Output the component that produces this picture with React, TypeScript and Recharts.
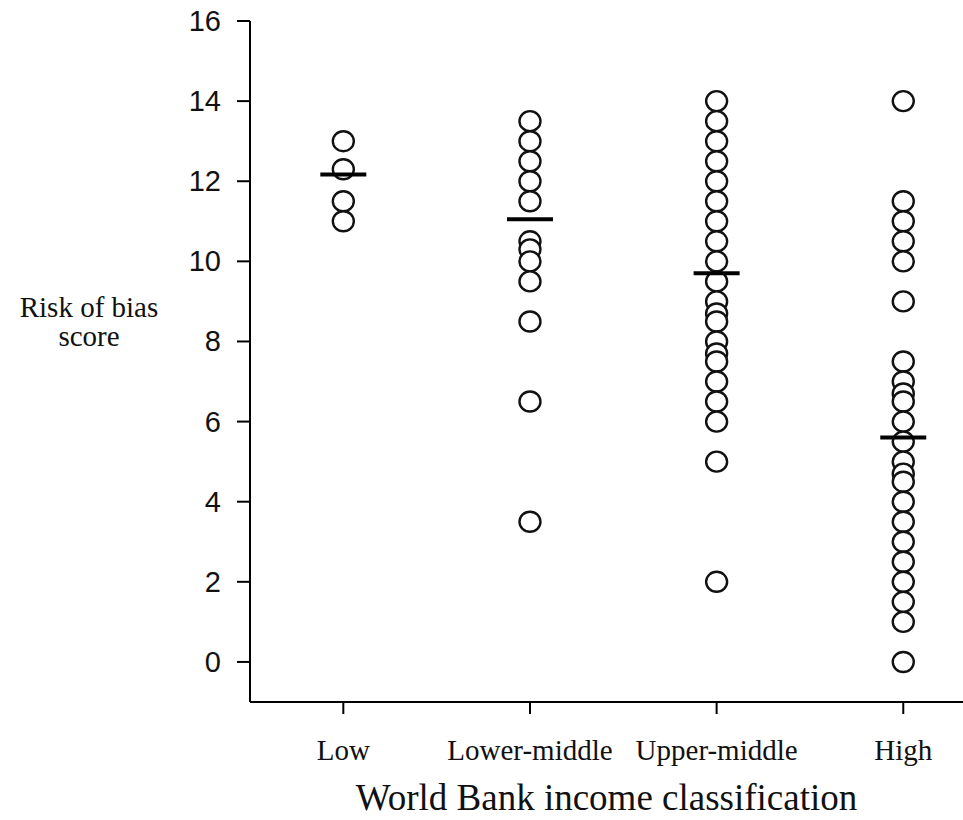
import React from "react";
import { ScatterChart, Scatter, XAxis, YAxis } from "recharts";

const categories = ["Low", "Lower-middle", "Upper-middle", "High"];
const lowScores = [13, 12.3, 11.5, 11];
const lowerMiddleScores = [13.5, 13, 12.5, 12, 11.5, 10.5, 10.3, 10, 9.5, 8.5, 6.5, 3.5];
const upperMiddleScores = [14, 13.5, 13, 12.5, 12, 11.5, 11, 10.5, 10, 9.5, 9, 8.7, 8.5, 8, 7.7, 7.5, 7, 6.5, 6, 5, 2];
const highScores = [14, 11.5, 11, 10.5, 10, 9, 7.5, 7, 6.7, 6.5, 6, 5.5, 5, 4.7, 4.5, 4, 3.5, 3, 2.5, 2, 1.5, 1, 0];
const groupMeans = [12.17, 11.05, 9.7, 5.6];
const yTicks = [0, 2, 4, 6, 8, 10, 12, 14, 16];
const xTicks = [1, 2, 3, 4];

const groups = [lowScores, lowerMiddleScores, upperMiddleScores, highScores];
const pointData = groups.flatMap((vals, i) => vals.map((v) => ({ x: i + 1, y: v })));
const meanData = groupMeans.map((m, i) => ({ x: i + 1, y: m }));

const CircleShape = (props: any) => {
  const { cx, cy } = props;
  if (cx == null || cy == null) return null;
  return <ellipse cx={cx} cy={cy} rx={10.5} ry={10} fill="#fff" stroke="#111" strokeWidth={2.4} />;
};

const MeanShape = (props: any) => {
  const { cx, cy } = props;
  if (cx == null || cy == null) return null;
  return <line x1={cx - 23} x2={cx + 23} y1={cy} y2={cy} stroke="#000" strokeWidth={4} />;
};

const XTick = (props: any) => {
  const { x, y, payload } = props;
  return (
    <text x={x} y={y} dy={44} textAnchor="middle" fontFamily="'Liberation Serif', serif" fontSize={29} fill="#111">
      {categories[payload.value - 1]}
    </text>
  );
};

const YTick = (props: any) => {
  const { x, y, payload } = props;
  return (
    <text x={x} y={y} dx={-14} dy={10} textAnchor="end" fontFamily="'Liberation Sans', Arial, sans-serif" fontSize={29} fill="#111">
      {payload.value}
    </text>
  );
};

const XLabel = (props: any) => {
  const vb = props.viewBox || {};
  return (
    <text x={vb.x + vb.width / 2} y={810} textAnchor="middle" fontFamily="'Liberation Serif', serif" fontSize={37} fill="#111">
      World Bank income classification
    </text>
  );
};

const YLabel = () => (
  <text x={89} y={317} textAnchor="middle" fontFamily="'Liberation Serif', serif" fontSize={29} fill="#111">
    <tspan x={89} y={317}>Risk of bias</tspan>
    <tspan x={89} y={346}>score</tspan>
  </text>
);

export default function App() {
  return (
    <div style={{ position: "absolute", left: 0, top: 0, width: 963, height: 820, background: "#fff" }}>
      <ScatterChart width={963} height={820} margin={{ top: 21, right: 0, bottom: 0, left: 0 }}>
        <XAxis
          type="number"
          dataKey="x"
          domain={[0.5, 4.32]}
          allowDataOverflow
          ticks={xTicks}
          height={118}
          axisLine={{ stroke: "#000", strokeWidth: 2 }}
          tickLine={{ stroke: "#000", strokeWidth: 2 }}
          tickSize={12}
          tick={<XTick />}
          label={{ content: (p: any) => <XLabel {...p} /> }}
        />
        <YAxis
          type="number"
          dataKey="y"
          domain={[-1, 16]}
          allowDataOverflow
          ticks={yTicks}
          width={250}
          axisLine={{ stroke: "#000", strokeWidth: 2 }}
          tickLine={{ stroke: "#000", strokeWidth: 2 }}
          tickSize={13}
          tick={<YTick />}
          label={{ content: () => <YLabel /> }}
        />
        <Scatter data={pointData} shape={<CircleShape />} isAnimationActive={false} />
        <Scatter data={meanData} shape={<MeanShape />} isAnimationActive={false} />
      </ScatterChart>
    </div>
  );
}
